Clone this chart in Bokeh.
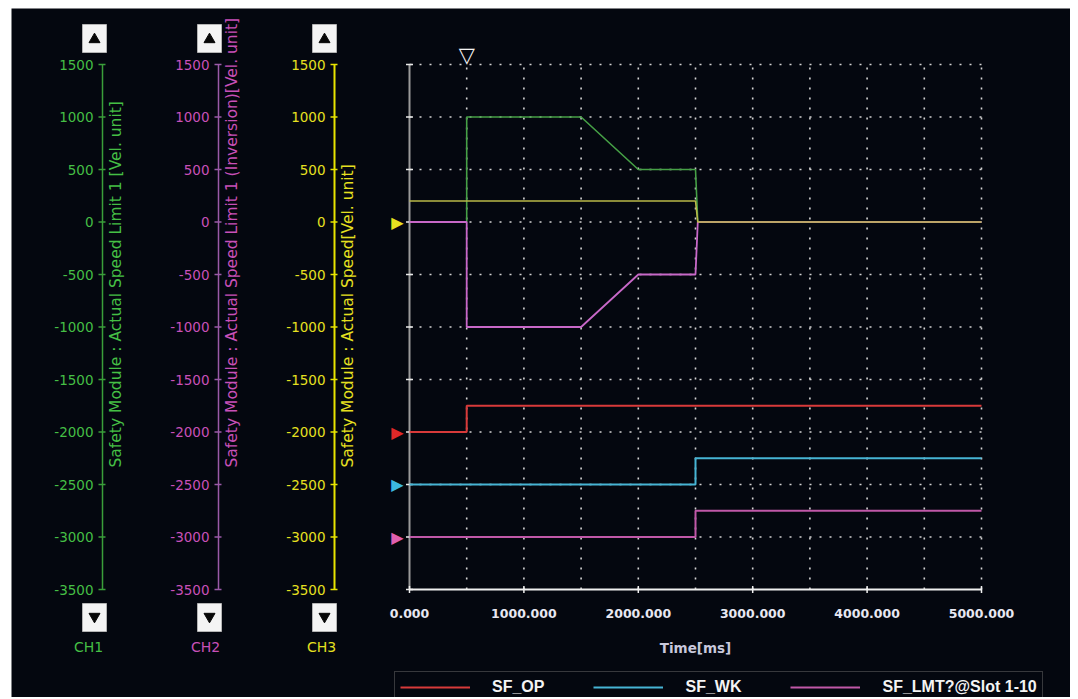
import math
from bokeh.plotting import figure
from bokeh.models import Range1d, Legend, LegendItem
from bokeh.core.properties import value
from bokeh.embed import file_html
from bokeh.resources import INLINE

# ---------------- data ----------------
time_ch = [0, 500, 500, 1500, 2000, 2500, 2520, 5000]
ch1_limit = [0, 0, 1000, 1000, 500, 500, 0, 0]            # CH1 Actual Speed Limit 1
ch2_limit_inv = [0, 0, -1000, -1000, -500, -500, 0, 0]    # CH2 Actual Speed Limit 1 (Inversion)
time_ch3 = [0, 2500, 2520, 5000]
ch3_speed = [200, 200, 0, 0]                              # CH3 Actual Speed

time_op = [0, 500, 500, 5000]
sf_op = [-2000, -2000, -1750, -1750]
time_wk = [0, 2500, 2500, 5000]
sf_wk = [-2500, -2500, -2250, -2250]
time_lmt = [0, 2500, 2500, 5000]
sf_lmt = [-3000, -3000, -2750, -2750]

series_names = ["SF_OP", "SF_WK", "SF_LMT?@Slot 1-10"]
marker_levels = [0, -2000, -2500, -3000]
cursor_ms = [500]

y_ticks = [1500, 1000, 500, 0, -500, -1000, -1500, -2000, -2500, -3000, -3500]
x_ticks = [0, 1000, 2000, 3000, 4000, 5000]
x_grid = [500, 1000, 1500, 2000, 2500, 3000, 3500, 4000, 4500, 5000]
y_grid = [1500, 1000, 500, 0, -500, -1000, -1500, -2000, -2500, -3000]

ch_names = ["CH1", "CH2", "CH3"]
ch_titles = ["Safety Module : Actual Speed Limit 1 [Vel. unit]",
             "Safety Module : Actual Speed Limit 1 (Inversion)[Vel. unit]",
             "Safety Module : Actual Speed[Vel. unit]"]

# ---------------- layout constants (canvas pixels) ----------------
W, H = 1059, 689
PLOT_L, PLOT_R = 398, 970      # 0 ms and 5000 ms
PLOT_T, PLOT_B = 56, 581       # 1500 and -3500
X_LO, X_HI = x_ticks[0], x_ticks[-1]
Y_LO, Y_HI = y_ticks[-1], y_ticks[0]
kx = (X_HI - X_LO) / (PLOT_R - PLOT_L)
ky = (Y_HI - Y_LO) / (PLOT_B - PLOT_T)

BG = "#04070f"
GREEN = "#45bf45"
MAG = "#c850b8"
MAG_LINE = "#9a5aa8"
YEL = "#e6e020"
ch_label_colors = [GREEN, MAG, YEL]
ch_line_colors = ["#3a9e3a", MAG_LINE, "#e8e400"]
ch_line_widths = [1.5, 1.5, 2]
FONT = value("DejaVu Sans")
GRID_C = "#d4d4d4"

p = figure(width=W, height=H, output_backend="svg", toolbar_location=None,
           x_range=Range1d(X_LO - PLOT_L * kx, X_HI + (W - PLOT_R) * kx),
           y_range=Range1d(Y_LO - (H - PLOT_B) * ky, Y_HI + PLOT_T * ky),
           x_axis_location=None, y_axis_location=None, min_border=0,
           background_fill_color=BG, border_fill_color=BG, outline_line_color=None)
p.margin = (8, 0, 0, 11)
p.grid.visible = False
p.extra_x_ranges = {"px": Range1d(0, W)}
p.extra_y_ranges = {"px": Range1d(H, 0)}

# ---------------- grid (dotted) ----------------
p.segment(x0=x_grid, y0=[Y_LO] * len(x_grid), x1=x_grid, y1=[Y_HI] * len(x_grid),
          line_color=GRID_C, line_width=1.6, line_dash="2 8")
p.segment(x0=[X_LO] * len(y_grid), y0=y_grid, x1=[X_HI] * len(y_grid), y1=y_grid,
          line_color=GRID_C, line_width=1.6, line_dash="2 8")

# ---------------- main axes ----------------
p.segment(x0=[X_LO], y0=[Y_LO], x1=[X_LO], y1=[Y_HI], line_color="#9a9a9a", line_width=2)
p.scatter(x=[X_LO] * len(y_ticks), y=y_ticks, marker="dash", size=7,
          line_color="#e8e8e8", line_width=1.5)
p.segment(x0=[X_LO], y0=[Y_LO], x1=[X_HI], y1=[Y_LO], line_color="#f0f0f0", line_width=2)
p.scatter(x=x_ticks, y=[Y_LO] * len(x_ticks), marker="dash", angle=math.pi / 2, size=7,
          line_color="#f0f0f0", line_width=1.5)
p.text(x=x_ticks, y=[Y_LO] * len(x_ticks), text=[f"{t:.3f}" for t in x_ticks],
       y_offset=24, text_align="center", text_baseline="middle", text_font=FONT,
       text_font_style="bold", text_font_size="12.5px", text_color="#e8e8f2")
p.text(x=[(X_LO + X_HI) / 2], y=[Y_LO], text=["Time[ms]"], y_offset=58,
       text_align="center", text_baseline="middle", text_font=FONT,
       text_font_style="bold", text_font_size="13.5px", text_color="#c8c8dc")

# cursor marker
p.text(x=cursor_ms, y=[Y_HI], text=["\u25BD"], y_offset=-10, text_align="center",
       text_baseline="middle", text_font=FONT, text_font_style="bold",
       text_font_size="21px", text_color="#f4f4f4")

# ---------------- channel scales (left) ----------------
axis_px = [91, 207, 323]
n = len(y_ticks)
for i in range(3):
    ax = axis_px[i]
    p.segment(x0=[ax], y0=[Y_LO], x1=[ax], y1=[Y_HI], x_range_name="px",
              line_color=ch_line_colors[i], line_width=ch_line_widths[i])
    p.segment(x0=[ax - 4] * n, y0=y_ticks, x1=[ax + 3] * n, y1=y_ticks, x_range_name="px",
              line_color=ch_line_colors[i], line_width=1.5)
    p.text(x=[ax - 9] * n, y=y_ticks, text=[str(t) for t in y_ticks], x_range_name="px",
           text_align="right", text_baseline="middle", text_font=FONT,
           text_font_size="13.5px", text_color=ch_label_colors[i])
    p.text(x=[ax + 4], y=[459], text=[ch_titles[i]], angle=math.pi / 2,
           x_range_name="px", y_range_name="px",
           text_align="left", text_baseline="top", text_font=FONT,
           text_font_size="15.5px", text_color=ch_label_colors[i])

btn_x = [83, 198, 313]
for by, mk, ty in ((30, "triangle", 31), (609, "inverted_triangle", 608)):
    p.rect(x=btn_x, y=[by] * 3, width=24, height=28, fill_color="#f4f4f4",
           line_color="#b4b4b4", line_width=1, x_range_name="px", y_range_name="px")
    p.scatter(x=btn_x, y=[ty] * 3, marker=mk, size=11, fill_color="#080808",
              line_color="#080808", x_range_name="px", y_range_name="px")
p.text(x=[77, 194, 310], y=[638] * 3, text=ch_names, text_align="center",
       text_baseline="middle", text_font=FONT, text_font_size="14px",
       text_color=ch_label_colors, x_range_name="px", y_range_name="px")

# ---------------- series ----------------
p.line(time_ch, ch1_limit, line_color="#46a046", line_width=1.6)
p.line(time_ch, ch2_limit_inv, line_color="#c868c8", line_width=1.8)
p.line(time_ch3, ch3_speed, line_color="#b8b848", line_width=1.6)
r_op = p.line(time_op, sf_op, line_color="#d83a3a", line_width=2)
r_wk = p.line(time_wk, sf_wk, line_color="#46b4d4", line_width=2)
r_lmt = p.line(time_lmt, sf_lmt, line_color="#c058a8", line_width=2)

# channel markers at the left edge of the plot
p.text(x=[X_LO] * len(marker_levels), y=marker_levels,
       text=["\u25B6"] * len(marker_levels), x_offset=-12,
       text_color=[YEL, "#e02828", "#3cb8e0", "#e060b0"],
       text_align="center", text_baseline="middle", text_font=FONT, text_font_size="16px")

legend = Legend(items=[LegendItem(label=series_names[0], renderers=[r_op]),
                       LegendItem(label=series_names[1], renderers=[r_wk]),
                       LegendItem(label=series_names[2], renderers=[r_lmt])],
                orientation="horizontal", location=(383, -6),
                glyph_width=70, glyph_height=20, label_standoff=22, spacing=49,
                padding=5, margin=0,
                border_line_color="#6a6a6a", border_line_width=1.5,
                background_fill_color=BG, background_fill_alpha=1,
                label_text_color="#f4f4f4", label_text_font="Liberation Sans",
                label_text_font_style="bold", label_text_font_size="16px")
p.add_layout(legend)

open("out.html", "w").write(file_html(p, INLINE))
